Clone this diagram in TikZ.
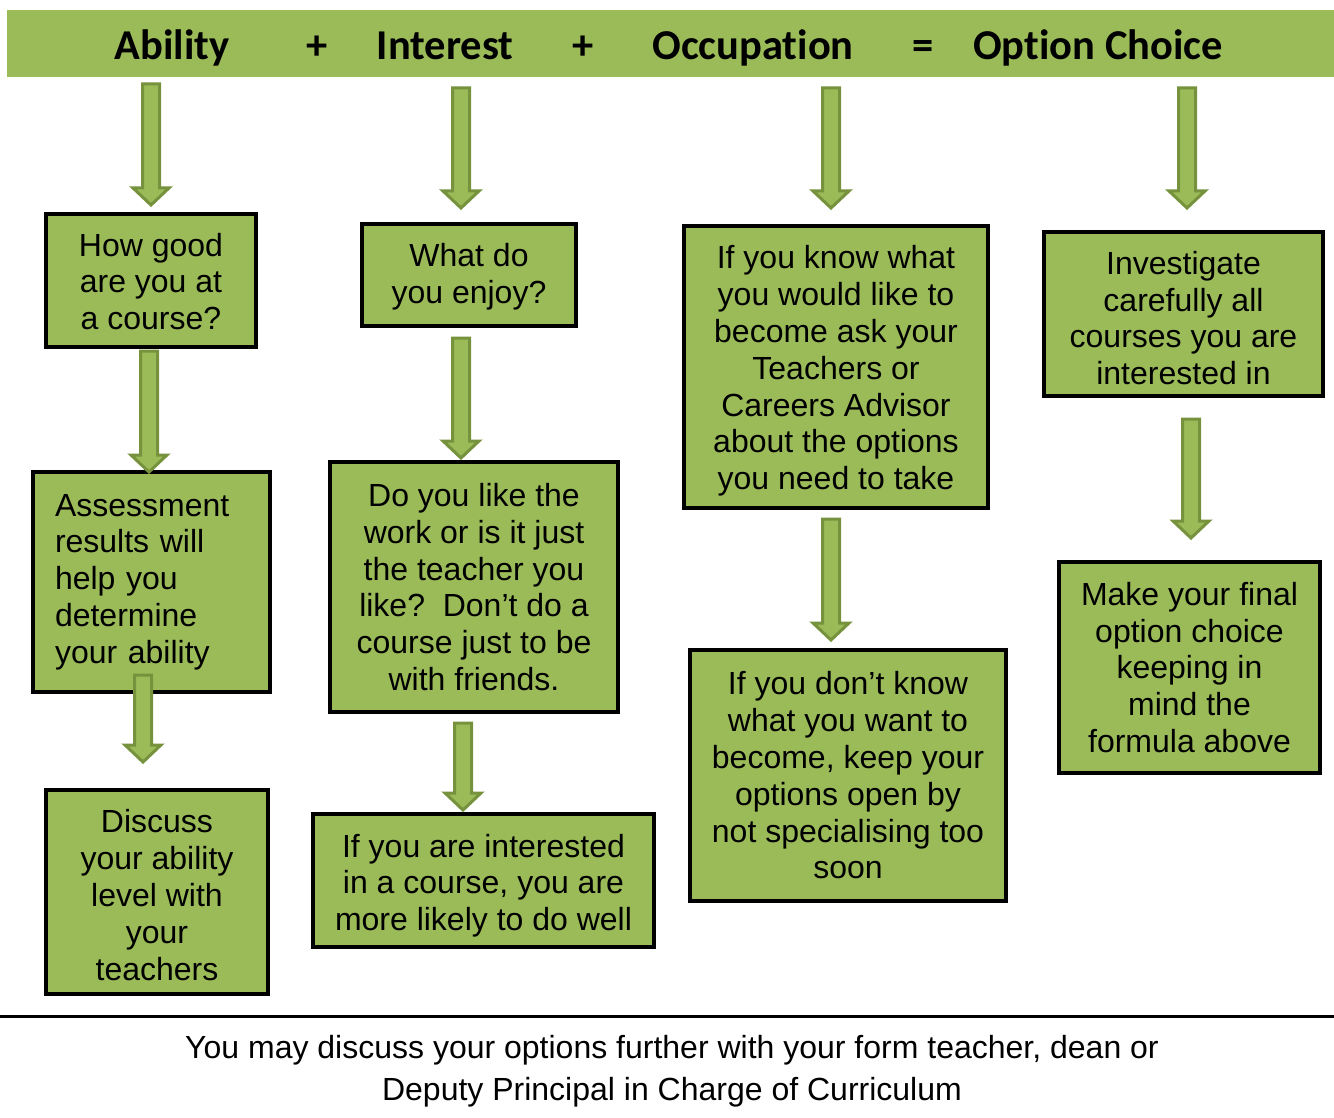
\documentclass[tikz,border=0pt]{standalone}
\usepackage{fontspec}
\setmainfont{Liberation Sans}
\newfontfamily\hdrfont[Ligatures=NoCommon]{Carlito}
\definecolor{olgreen}{HTML}{9BBB59}
\definecolor{oldark}{HTML}{76923C}
\newcommand\barrow[3]{%
  \draw[arrowbox] (#1-8.5,#2) -- (#1+8.5,#2) -- (#1+8.5,#3-17) -- (#1+18,#3-17) -- (#1,#3) -- (#1-18,#3-17) -- (#1-8.5,#3-17) -- cycle;}
\newcommand\tstrut[1]{\rule{0pt}{\dimexpr 23.3pt+#1pt+#1pt\relax}}
\begin{document}
\begin{tikzpicture}[x=1pt,y=-1pt,
  box/.style={draw=black,line width=4pt,fill=olgreen,inner sep=0pt,align=center,
    font=\fontsize{32}{36.8}\selectfont},
  arrowbox/.style={draw=oldark,line width=3pt,fill=olgreen,line join=miter},
  hdr/.style={font=\hdrfont\bfseries\fontsize{42.5}{48}\selectfont,inner sep=0pt,anchor=base},
  foot/.style={font=\fontsize{32}{42}\selectfont,align=center,inner sep=0pt}]
\useasboundingbox (0,0) rectangle (1334,1118);
\fill[white] (0,0) rectangle (1334,1118);
% header
\node[fill=olgreen,minimum width=1327pt,minimum height=67pt,inner sep=0pt,anchor=north west] (header) at (7,10) {};
\node[hdr] (h1) at (172,60) {Ability};
\node[hdr] (h2) at (317,60) {+};
\node[hdr] (h3) at (445,60) {Interest};
\node[hdr] (h4) at (583,60) {+};
\node[hdr] (h5) at (753,60) {Occupation};
\node[hdr] (h6) at (923,60) {=};
\node[hdr] (h7) at (1098,60) {Option Choice};
% boxes (outer edges given; node size = outer - 4)
\node[box,minimum width=210pt,minimum height=133pt] (b1) at (151,280.5) {\tstrut{1}How good\\are you at\\a course?};
\node[box,minimum width=235pt,minimum height=220pt,align=left,text width=193pt,inner xsep=22pt] (b2) at (151.5,582) {Assessment\\results will\\help you\\determine\\your ability};
\node[box,minimum width=222pt,minimum height=204pt] (b3) at (157,892) {\tstrut{3}Discuss\\your ability\\level with\\your\\teachers};
\node[box,minimum width=214pt,minimum height=102pt] (b4) at (469,275) {\tstrut{2}What do\\you enjoy?};
\node[box,minimum width=288pt,minimum height=250pt] (b5) at (474,587) {Do you like the\\work or is it just\\the teacher you\\like?\ \ Don’t do a\\course just to be\\with friends.};
\node[box,minimum width=341pt,minimum height=133pt] (b6) at (483.5,880.5) {\tstrut{5}If you are interested\\in a course, you are\\more likely to do well};
\node[box,minimum width=304pt,minimum height=282pt] (b7) at (836,367) {\tstrut{4}If you know what\\you would like to\\become ask your\\Teachers or\\Careers Advisor\\about the options\\you need to take};
\node[box,minimum width=316pt,minimum height=251pt] (b8) at (848,775.5) {If you don’t know\\what you want to\\become, keep your\\options open by\\not specialising too\\soon};
\node[box,minimum width=279pt,minimum height=164pt] (b9) at (1183.5,314) {\tstrut{4}Investigate\\carefully all\\courses you are\\interested in};
\node[box,minimum width=261pt,minimum height=211pt] (b10) at (1189.5,667.5) {Make your final\\option choice\\keeping in\\mind the\\formula above};
% arrows
\barrow{151}{84}{205}
\barrow{149}{351}{472}
\barrow{143}{675}{762}
\barrow{461}{88}{208}
\barrow{461}{338}{458}
\barrow{463}{723}{810}
\barrow{831}{88}{208}
\barrow{831}{519}{640}
\barrow{1187}{88}{208}
\barrow{1191}{419}{538}
% separator and footer
\draw[line width=3pt] (0,1016) coordinate (sepL) -- (1334,1016) coordinate (sepR);
\node[foot] (foot) at (672,1071) {You may discuss your options further with your form teacher, dean or\\Deputy Principal in Charge of Curriculum};
\end{tikzpicture}
\end{document}
